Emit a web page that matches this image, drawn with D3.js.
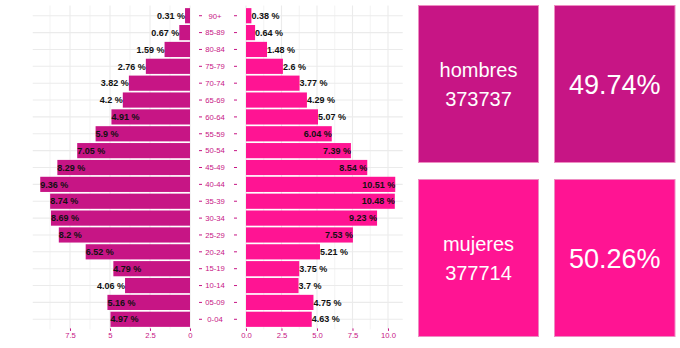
<!DOCTYPE html>
<html>
<head>
<meta charset="utf-8">
<script src="https://cdn.jsdelivr.net/npm/d3@7"></script>
<style>
  html, body { margin: 0; padding: 0; background: #fff; }
  svg { display: block; font-family: "Liberation Sans", Arial, sans-serif; }
</style>
</head>
<body>
<svg id="chart" width="680" height="348"></svg>
<script>
const ages = ["90+","85-89","80-84","75-79","70-74","65-69","60-64","55-59","50-54","45-49","40-44","35-39","30-34","25-29","20-24","15-19","10-14","05-09","0-04"];
const hombres = [0.31,0.67,1.59,2.76,3.82,4.2,4.91,5.9,7.05,8.29,9.36,8.74,8.69,8.2,6.52,4.79,4.06,5.16,4.97];
const mujeres = [0.38,0.64,1.48,2.6,3.77,4.29,5.07,6.04,7.39,8.54,10.51,10.48,9.23,7.53,5.21,3.75,3.7,4.75,4.63];
const leftTicks = [0, 2.5, 5, 7.5];
const rightTicks = [0, 2.5, 5, 7.5, 10];
const groupNames = ["hombres", "mujeres"];
const groupTotals = [373737, 377714];
const groupPct = ["49.74%", "50.26%"];

const colMen = "#C71585", colWomen = "#FF1493", labelCol = "#C71585", gridCol = "#ebebeb";
const svg = d3.select("#chart");

const y = d3.scaleBand().domain(ages).range([5.6, 329.4]).paddingInner(0.1).paddingOuter(0.15);
const xL = d3.scaleLinear().domain([0, d3.max(hombres) * 1.05]).range([190, 32.75]);
const xR = d3.scaleLinear().domain([0, d3.max(mujeres) * 1.05]).range([246, 402.7]);
const panelTop = 5.6, panelBottom = 329.4;

function minorTicks(ticks, maxV) {
  const m = [];
  for (let i = 0; i < ticks.length; i++) { const v = ticks[i] + 1.25; if (v <= maxV) m.push(v); }
  return m;
}

// gridlines
function grid(x, ticks, maxV) {
  const g = svg.append("g");
  g.selectAll("line.minor").data(minorTicks(ticks, maxV)).join("line")
    .attr("x1", d => x(d)).attr("x2", d => x(d)).attr("y1", panelTop).attr("y2", panelBottom)
    .attr("stroke", gridCol).attr("stroke-width", 0.6);
  g.selectAll("line.major").data(ticks).join("line")
    .attr("x1", d => x(d)).attr("x2", d => x(d)).attr("y1", panelTop).attr("y2", panelBottom)
    .attr("stroke", gridCol).attr("stroke-width", 1.1);
  g.selectAll("line.h").data(ages).join("line")
    .attr("x1", x.range()[0]).attr("x2", x.range()[1])
    .attr("y1", d => y(d) + y.bandwidth() / 2).attr("y2", d => y(d) + y.bandwidth() / 2)
    .attr("stroke", gridCol).attr("stroke-width", 1.1);
}
grid(xL, leftTicks, xL.domain()[1]);
grid(xR, rightTicks, xR.domain()[1]);

// bars
svg.append("g").selectAll("rect").data(hombres).join("rect")
  .attr("x", d => xL(d)).attr("width", d => xL(0) - xL(d))
  .attr("y", (d, i) => y(ages[i])).attr("height", y.bandwidth())
  .attr("fill", colMen);
svg.append("g").selectAll("rect").data(mujeres).join("rect")
  .attr("x", xR(0)).attr("width", d => xR(d) - xR(0))
  .attr("y", (d, i) => y(ages[i])).attr("height", y.bandwidth())
  .attr("fill", colWomen);

// value labels
const maxH = d3.max(hombres), maxM = d3.max(mujeres);
svg.append("g").selectAll("text").data(hombres).join("text")
  .attr("x", d => xL(d))
  .attr("y", (d, i) => y(ages[i]) + y.bandwidth() / 2 + 3.2)
  .attr("text-anchor", d => d > maxH / 2 ? "start" : "end")
  .attr("font-size", 9).attr("font-weight", "bold").attr("fill", "#111")
  .text(d => d + " %");
svg.append("g").selectAll("text").data(mujeres).join("text")
  .attr("x", d => xR(d))
  .attr("y", (d, i) => y(ages[i]) + y.bandwidth() / 2 + 3.2)
  .attr("text-anchor", d => d > maxM / 2 ? "end" : "start")
  .attr("font-size", 9).attr("font-weight", "bold").attr("fill", "#111")
  .text(d => d + " %");

// middle age labels with tick dashes
const mid = svg.append("g");
ages.forEach(a => {
  const cy = y(a) + y.bandwidth() / 2;
  mid.append("line").attr("x1", 199).attr("x2", 202).attr("y1", cy).attr("y2", cy).attr("stroke", labelCol).attr("stroke-width", 1);
  mid.append("line").attr("x1", 234).attr("x2", 237).attr("y1", cy).attr("y2", cy).attr("stroke", labelCol).attr("stroke-width", 1);
  mid.append("text").attr("x", 215).attr("y", cy + 2.8).attr("text-anchor", "middle")
    .attr("font-size", 7.7).attr("fill", labelCol).text(a);
});

// bottom axes
function bottomAxis(x, ticks, fmt) {
  const ax = d3.axisBottom(x).tickValues(ticks).tickSize(2.5).tickPadding(2).tickFormat(fmt);
  const g = svg.append("g").attr("transform", `translate(0,${panelBottom - 1})`).call(ax);
  g.select(".domain").remove();
  g.selectAll(".tick line").attr("stroke", labelCol);
  g.selectAll(".tick text").attr("fill", labelCol).attr("font-size", 7.7)
    .attr("font-family", "Liberation Sans, Arial, sans-serif");
}
bottomAxis(xL, leftTicks, d3.format("~g"));
bottomAxis(xR, rightTicks, d3.format(".1f"));

// summary boxes
const boxX = [418.5, 554.5], boxW = [120, 120.5];
const boxY = [5.5, 179.5], boxH = 157;
const boxFill = [colMen, colWomen];
groupNames.forEach((name, r) => {
  svg.append("rect").attr("x", boxX[0]).attr("y", boxY[r]).attr("width", boxW[0]).attr("height", boxH)
    .attr("fill", boxFill[r]).attr("stroke", "#ee8cc2").attr("stroke-width", 1);
  const cx0 = boxX[0] + boxW[0] / 2, cy = boxY[r] + boxH / 2;
  svg.append("text").attr("x", cx0).attr("y", cy - 7.5).attr("text-anchor", "middle")
    .attr("font-size", 20).attr("fill", "#fff").text(name);
  svg.append("text").attr("x", cx0).attr("y", cy + 22).attr("text-anchor", "middle")
    .attr("font-size", 20).attr("fill", "#fff").text(groupTotals[r]);
  svg.append("rect").attr("x", boxX[1]).attr("y", boxY[r]).attr("width", boxW[1]).attr("height", boxH)
    .attr("fill", boxFill[r]).attr("stroke", "#ee8cc2").attr("stroke-width", 1);
  svg.append("text").attr("x", boxX[1] + boxW[1] / 2).attr("y", cy + 10).attr("text-anchor", "middle")
    .attr("font-size", 27).attr("fill", "#fff").text(groupPct[r]);
});
</script>
</body>
</html>
